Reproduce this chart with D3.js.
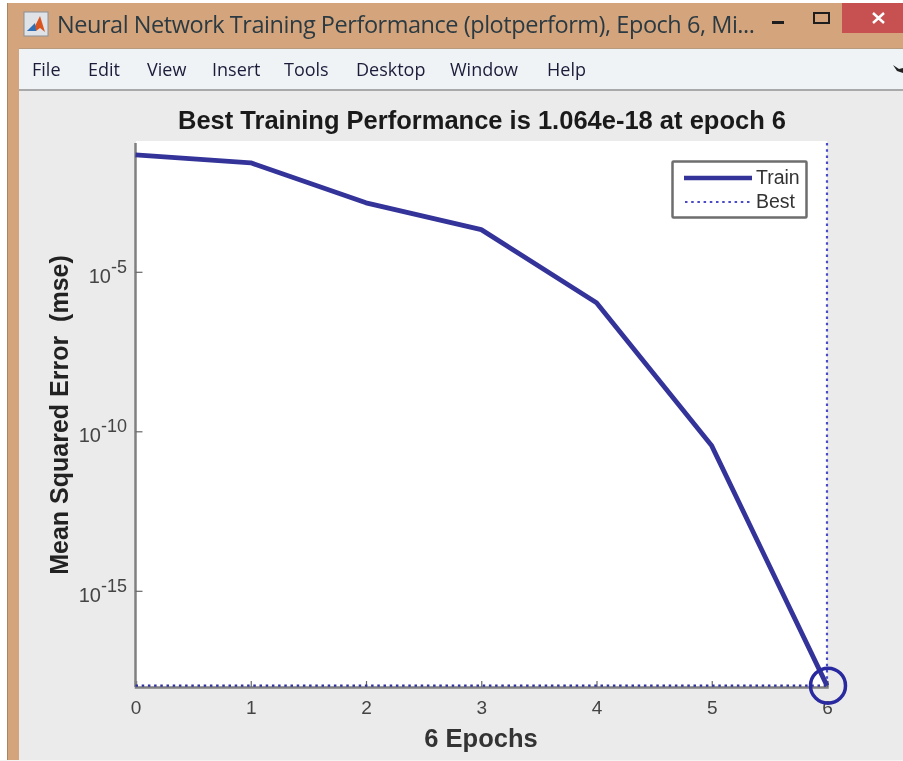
<!DOCTYPE html>
<html><head><meta charset="utf-8">
<style>html,body{margin:0;padding:0;background:#fff;overflow:hidden}svg{display:block;filter:blur(0.5px)}text{font-family:"Liberation Sans",Arial,sans-serif}</style>
<script src="https://cdn.jsdelivr.net/npm/d3@7/dist/d3.min.js"></script>
</head><body>
<svg id="c" width="903" height="761"></svg>
<script>
const epochs=[0,1,2,3,4,5,6];
const trainMse=[4.6e-2,2.6e-2,1.45e-3,2.1e-4,1.07e-6,3.5e-11,1.064e-18];
const xTicks=[0,1,2,3,4,5,6];
const yExponents=[-5,-10,-15];
const menuItems=[["File",32],["Edit",88],["View",147],["Insert",212],["Tools",284],["Desktop",356],["Window",450],["Help",547]];
const windowTitle="Neural Network Training Performance (plotperform), Epoch 6, Mi...";
const chartTitle="Best Training Performance is 1.064e-18 at epoch 6";
const xLabel="6 Epochs", yLabel="Mean Squared Error  (mse)";
const legendItems=["Train","Best"];
const bestEpoch=6,bestValue=1.064e-18;

const svg=d3.select("#c");
const rect=(x,y,w,h,f)=>svg.append("rect").attr("x",x).attr("y",y).attr("width",w).attr("height",h).attr("fill",f);
// window chrome
rect(7,3,896,757,"#d4a57c");
rect(7,3,1,757,"#a98660");
rect(19,48,884,1,"#b89a7c");
rect(19,49,884,40,"#eff3f5");
rect(19,89,884,671,"#ebebeb");
rect(19,89,884,2,"#a9a9a9");
rect(842,3,61,30,"#c75050");
rect(0,760,903,1,"#f4f4f4");
// app icon
rect(24,12,24,24,"#dfe3e8").attr("stroke","#8a8f95");
svg.append("path").attr("d","M27 31 L35 26 L40 16 L45 32 L40 28 L36 31 Z").attr("fill","#d9541e");
svg.append("path").attr("d","M27 31 L35 23 L36 31 Z").attr("fill","#2f6fb5");
svg.append("text").attr("x",57).attr("y",33).attr("font-size",23.5).attr("fill","#2b3a42").attr("style",'font-family:"Open Sans","Noto Sans",sans-serif').attr("textLength",698).text(windowTitle);
rect(772,21,12,3,"#1e1e1e");
svg.append("rect").attr("x",814).attr("y",13).attr("width",15).attr("height",10).attr("fill","none").attr("stroke","#1e1e1e").attr("stroke-width",2);
svg.append("path").attr("d","M873 13 L884 23 M884 13 L873 23").attr("stroke","#fff").attr("stroke-width",2.5);
svg.selectAll("text.menu").data(menuItems).enter().append("text").attr("class","menu")
 .attr("x",d=>d[1]).attr("y",76).attr("font-size",18).attr("fill","#1c1c3a").attr("style",'font-family:"Open Sans","Noto Sans",sans-serif').text(d=>d[0]);
svg.append("path").attr("d","M893 65 L899 69 L903 68 L903 73 L897 71 Z").attr("fill","#222");

// plot
const x=d3.scaleLinear().domain([0,6]).range([135.5,827]);
const y=d3.scaleLog().domain([10**-0.9,1e-18]).range([141,686.5]);
rect(136,141,691,546,"#fff");
const axisColor="#808080";
const gx=svg.append("g").attr("transform","translate(0,687)")
 .call(d3.axisBottom(x).tickValues(xTicks).tickFormat(d3.format("d")).tickSize(-6).tickPadding(14));
gx.select(".domain").attr("stroke",axisColor).attr("stroke-width",2.5);
gx.selectAll("line").attr("stroke","#666").attr("stroke-width",1.2);
gx.selectAll("text").attr("font-size",19).attr("fill","#444");
const gy=svg.append("g").attr("transform","translate(135.5,0)")
 .call(d3.axisLeft(y).tickValues(yExponents.map(e=>10**e)).tickFormat("").tickSize(-7));
gy.select(".domain").attr("d",`M0,143V687`).attr("stroke",axisColor).attr("stroke-width",2.5);
gy.selectAll("line").attr("stroke","#666").attr("stroke-width",1.2);
const yl=svg.append("g").selectAll("text").data(yExponents).enter().append("text")
 .attr("x",127).attr("y",e=>y(10**e)+11).attr("text-anchor","end").attr("font-size",20).attr("fill","#444");
yl.append("tspan").text("10");
yl.append("tspan").attr("dy",-10).attr("font-size",18).text(e=>"-"+Math.abs(e));

const line=d3.line().x((d,i)=>x(epochs[i])).y(d=>y(d));
const blue="#33339a", dotBlue="#4a4ac8";
const dash="2.5 3.7";
svg.append("path").attr("d",d3.line()([[x(bestEpoch),143],[x(bestEpoch),y(bestValue)]])).attr("stroke",dotBlue).attr("stroke-width",2.2).attr("stroke-dasharray",dash).attr("fill","none");
svg.append("path").attr("d",d3.line()([[x(0),y(bestValue)],[x(bestEpoch),y(bestValue)]])).attr("stroke","#2f2fa0").attr("stroke-width",2.2).attr("stroke-dasharray",dash).attr("fill","none");
svg.append("path").datum(trainMse).attr("d",line).attr("fill","none").attr("stroke",blue).attr("stroke-width",4.8).attr("stroke-linejoin","round");
svg.append("circle").attr("cx",x(bestEpoch)+1).attr("cy",y(bestValue)).attr("r",17.5).attr("fill","none").attr("stroke","#2a2aa0").attr("stroke-width",3.5);

// legend
rect(672.5,161.5,134,56,"#fff").attr("stroke","#6e6e6e").attr("stroke-width",2.5).attr("rx",1);
svg.append("line").attr("x1",684).attr("x2",752).attr("y1",178).attr("y2",178).attr("stroke",blue).attr("stroke-width",4.5);
svg.append("line").attr("x1",685).attr("x2",751).attr("y1",202).attr("y2",202).attr("stroke",dotBlue).attr("stroke-width",2.2).attr("stroke-dasharray",dash);
svg.selectAll("text.leg").data(legendItems).enter().append("text").attr("class","leg")
 .attr("x",756).attr("y",(d,i)=>184+i*24).attr("font-size",19.5).attr("fill","#333").text(d=>d);

// titles
svg.append("text").attr("x",482).attr("y",129).attr("text-anchor","middle").attr("font-size",25.5).attr("font-weight","bold").attr("fill","#1a1a1a").text(chartTitle);
svg.append("text").attr("x",481).attr("y",747).attr("text-anchor","middle").attr("font-size",25.5).attr("font-weight","bold").attr("fill","#333").text(xLabel);
svg.append("text").attr("transform","translate(68,415) rotate(-90)").attr("text-anchor","middle").attr("font-size",25).attr("font-weight","bold").attr("fill","#222").attr("xml:space","preserve").style("white-space","pre").text(yLabel);
</script>
</body></html>
